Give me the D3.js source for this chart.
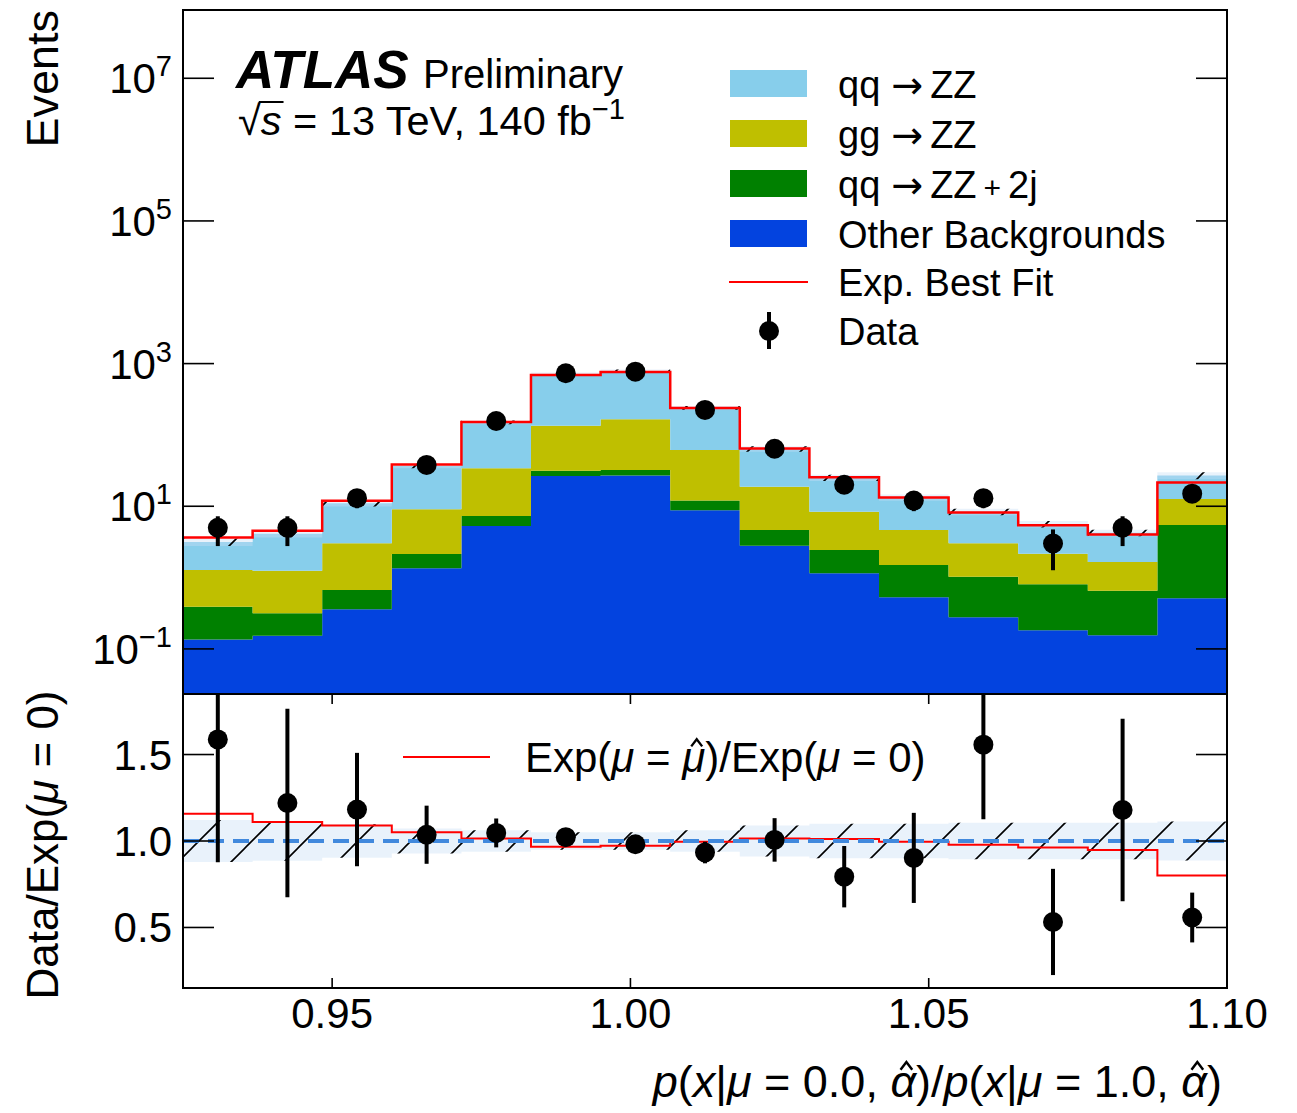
<!DOCTYPE html>
<html>
<head>
<meta charset="utf-8">
<script src="https://cdn.jsdelivr.net/npm/d3@7"></script>
<style>
  html, body { margin: 0; padding: 0; background: #fff; }
  svg { display: block; font-family: "Liberation Sans", Arial, Helvetica, "DejaVu Sans", sans-serif; }
</style>
</head>
<body>
<svg id="chart" width="1297" height="1113"></svg>
<script>
// ---- binning and per-bin yields ----
const binEdges = [0.925, 0.93667, 0.94833, 0.96, 0.97167, 0.98333, 0.995, 1.00667,
                  1.01833, 1.03, 1.04167, 1.05333, 1.065, 1.07667, 1.08833, 1.10];
const otherBackgrounds = [0.136, 0.153, 0.36, 1.35, 5.28, 26.5, 26.9, 8.8, 2.8, 1.15, 0.53, 0.278, 0.182, 0.155, 0.513];
const qqZZ2j          = [0.254, 0.163, 0.31, 0.79, 2.02, 5.0, 5.4, 3.2, 1.85, 1.29, 0.97, 0.752, 0.623, 0.501, 4.95];
const ggZZ            = [0.89, 0.934, 2.36, 6.93, 26.7, 103.5, 133.7, 49.5, 14.15, 5.96, 3.15, 2.0, 1.355, 1.004, 7.14];
const qqZZ            = [1.87, 2.85, 7.97, 27.6, 116, 580, 620, 178.5, 44.8, 16.8, 8.65, 5.32, 3.48, 2.58, 14.3];
const dataCounts      = [5, 5, 13, 38, 157, 731, 771, 224, 64, 20, 12, 13, 3, 5, 15];
// Exp(mu = mu_hat) / Exp(mu = 0)
const bestFitRatio    = [1.158, 1.110, 1.089, 1.050, 1.014, 0.967, 0.972, 0.995, 1.014, 1.012, 0.996, 0.979, 0.963, 0.948, 0.800];
// relative uncertainty of the expectation
const bandUncertainty = [0.121, 0.114, 0.097, 0.072, 0.062, 0.050, 0.050, 0.062, 0.090, 0.100, 0.100, 0.105, 0.105, 0.105, 0.113];

const upperTicks = [1e-1, 1e1, 1e3, 1e5, 1e7];
const upperTickLabels = [["10", "−1"], ["10", "1"], ["10", "3"], ["10", "5"], ["10", "7"]];
const ratioTicks = [0.5, 1.0, 1.5];
const ratioTickLabels = ["0.5", "1.0", "1.5"];
const xTicks = [0.95, 1.00, 1.05, 1.10];
const xTickLabels = ["0.95", "1.00", "1.05", "1.10"];
const sampleNames = [["qq", "ZZ", ""], ["gg", "ZZ", ""], ["qq", "ZZ", "2j"], ["Other Backgrounds"]];
const sampleColors = ["#87ceeb", "#bfbf00", "#008000", "#0343df"];

// ---- layout ----
const L = 183, R = 1227, T = 10, MID = 694, B = 988;
const svg = d3.select("#chart");
const x  = d3.scaleLinear().domain([0.925, 1.10]).range([L, R]);
const y  = d3.scaleLog().domain([0.02333, 9.06e7]).range([MID, T]);
const yr = d3.scaleLinear().domain([0.15, 1.85]).range([B, MID]);

const defs = svg.append("defs");
defs.append("clipPath").attr("id", "clipUpper").append("rect")
  .attr("x", L).attr("y", T).attr("width", R - L).attr("height", MID - T);
defs.append("clipPath").attr("id", "clipLower").append("rect")
  .attr("x", L).attr("y", MID).attr("width", R - L).attr("height", B - MID);
const hatch = defs.append("pattern").attr("id", "hatch")
  .attr("patternUnits", "userSpaceOnUse").attr("width", 53).attr("height", 53)
  .attr("patternTransform", "translate(33,0)");
hatch.append("path").attr("d", "M0,53 L53,0 M-10,10 L10,-10 M43,63 L63,43")
  .attr("stroke", "#000").attr("stroke-width", 1.6);

// ---- stacked yields ----
const rows = dataCounts.map((d, i) => ({
  other: otherBackgrounds[i], qq2j: qqZZ2j[i], gg: ggZZ[i], qq: qqZZ[i]
}));
const stack = d3.stack().keys(["other", "qq2j", "gg", "qq"])(rows);
const totals = rows.map(r => r.other + r.qq2j + r.gg + r.qq);
const stackColors = { other: "#0343df", qq2j: "#008000", gg: "#bfbf00", qq: "#87ceeb" };

// two points per bin so the area is drawn as flat steps
function stepPoints(n) {
  const pts = [];
  for (let i = 0; i < n; i++) { pts.push({ i, e: binEdges[i] }); pts.push({ i, e: binEdges[i + 1] }); }
  return pts;
}
const pts = stepPoints(dataCounts.length);
const yFloor = v => (v <= 0 ? MID + 5 : y(v));

const upper = svg.append("g").attr("clip-path", "url(#clipUpper)");
stack.forEach(layer => {
  const area = d3.area()
    .x(p => x(p.e))
    .y0(p => yFloor(layer[p.i][0]))
    .y1(p => y(layer[p.i][1]));
  upper.append("path").attr("d", area(pts)).attr("fill", stackColors[layer.key]);
});

// uncertainty band on the total
const bandArea = d3.area()
  .x(p => x(p.e))
  .y0(p => y(totals[p.i] * (1 - bandUncertainty[p.i])))
  .y1(p => y(totals[p.i] * (1 + bandUncertainty[p.i])));
upper.append("path").attr("d", bandArea(pts)).attr("fill", "rgba(200,222,245,0.4)");
upper.append("path").attr("d", bandArea(pts)).attr("fill", "url(#hatch)");

// best-fit expectation
const fitLine = d3.line().x(p => x(p.e)).y(p => y(totals[p.i] * bestFitRatio[p.i]));
upper.append("path").attr("d", fitLine(pts)).attr("fill", "none")
  .attr("stroke", "#ff0000").attr("stroke-width", 2.5);

// data points
const centers = dataCounts.map((d, i) => (binEdges[i] + binEdges[i + 1]) / 2);
const dUp = upper.append("g");
dataCounts.forEach((n, i) => {
  const err = Math.sqrt(n);
  dUp.append("line").attr("x1", x(centers[i])).attr("x2", x(centers[i]))
    .attr("y1", y(n + err)).attr("y2", yFloor(n - err))
    .attr("stroke", "#000").attr("stroke-width", 4);
  dUp.append("circle").attr("cx", x(centers[i])).attr("cy", y(n)).attr("r", 10).attr("fill", "#000");
});

// ---- ratio panel ----
const lower = svg.append("g").attr("clip-path", "url(#clipLower)");
const ratioBand = d3.area()
  .x(p => x(p.e))
  .y0(p => yr(1 - bandUncertainty[p.i]))
  .y1(p => yr(1 + bandUncertainty[p.i]));
lower.append("path").attr("d", ratioBand(pts)).attr("fill", "rgba(200,222,245,0.4)");
lower.append("path").attr("d", ratioBand(pts)).attr("fill", "url(#hatch)");
lower.append("path")
  .attr("d", d3.line().x(p => x(p.e)).y(p => yr(bestFitRatio[p.i]))(pts))
  .attr("fill", "none").attr("stroke", "#ff0000").attr("stroke-width", 2);
lower.append("line").attr("x1", L).attr("x2", R).attr("y1", yr(1)).attr("y2", yr(1))
  .attr("stroke", "#4189dd").attr("stroke-width", 4).attr("stroke-dasharray", "16,9");
dataCounts.forEach((n, i) => {
  const r = n / totals[i], e = Math.sqrt(n) / totals[i];
  lower.append("line").attr("x1", x(centers[i])).attr("x2", x(centers[i]))
    .attr("y1", yr(r + e)).attr("y2", yr(r - e))
    .attr("stroke", "#000").attr("stroke-width", 4);
  lower.append("circle").attr("cx", x(centers[i])).attr("cy", yr(r)).attr("r", 10).attr("fill", "#000");
});

// ---- frames and ticks ----
const axes = svg.append("g").attr("stroke", "#000");
axes.append("rect").attr("x", L).attr("y", T).attr("width", R - L).attr("height", MID - T)
  .attr("fill", "none").attr("stroke-width", 2);
axes.append("rect").attr("x", L).attr("y", MID).attr("width", R - L).attr("height", B - MID)
  .attr("fill", "none").attr("stroke-width", 2);
upperTicks.forEach(t => {
  axes.append("line").attr("x1", L).attr("x2", L + 31).attr("y1", y(t)).attr("y2", y(t)).attr("stroke-width", 1.6);
  axes.append("line").attr("x1", R - 31).attr("x2", R).attr("y1", y(t)).attr("y2", y(t)).attr("stroke-width", 1.6);
});
ratioTicks.forEach(t => {
  axes.append("line").attr("x1", L).attr("x2", L + 31).attr("y1", yr(t)).attr("y2", yr(t)).attr("stroke-width", 1.6);
  axes.append("line").attr("x1", R - 31).attr("x2", R).attr("y1", yr(t)).attr("y2", yr(t)).attr("stroke-width", 1.6);
});
xTicks.forEach(t => {
  axes.append("line").attr("x1", x(t)).attr("x2", x(t)).attr("y1", B).attr("y2", B - 10).attr("stroke-width", 1.6);
  axes.append("line").attr("x1", x(t)).attr("x2", x(t)).attr("y1", MID).attr("y2", MID + 10).attr("stroke-width", 1.6);
});

// ---- tick labels ----
const labels = svg.append("g").attr("fill", "#000");
upperTicks.forEach((t, i) => {
  const tx = labels.append("text").attr("x", 172).attr("y", y(t) + 15)
    .attr("text-anchor", "end").attr("font-size", 42);
  tx.append("tspan").text(upperTickLabels[i][0]);
  tx.append("tspan").attr("dy", -17).attr("font-size", 29).text(upperTickLabels[i][1]);
});
ratioTicks.forEach((t, i) => {
  labels.append("text").attr("x", 172).attr("y", yr(t) + 15)
    .attr("text-anchor", "end").attr("font-size", 42).text(ratioTickLabels[i]);
});
xTicks.forEach((t, i) => {
  labels.append("text").attr("x", x(t)).attr("y", 1028)
    .attr("text-anchor", "middle").attr("font-size", 42).text(xTickLabels[i]);
});

// ---- math-style text: parts are [text, italic, hat] ----
function richText(sel, parts, fs) {
  const hats = [];
  let idx = 0;
  parts.forEach(p => {
    const ts = sel.append("tspan").text(p[0]);
    if (p[1]) ts.attr("font-style", "italic");
    if (p[2]) hats.push(idx);
    idx += p[0].length;
  });
  hats.forEach(k => {
    const ext = sel.node().getExtentOfChar(k);
    const cx = ext.x + ext.width / 2 + 0.07 * fs;
    const baseY = ext.y + ext.height * 0.79;         // approximate baseline
    const top = baseY - 0.52 * fs;                   // x-height
    const hw = 0.13 * fs;
    sel.node().parentNode.appendChild(
      d3.create("svg:path")
        .attr("d", `M${cx - hw},${top - 0.07 * fs} L${cx},${top - 0.24 * fs} L${cx + hw},${top - 0.07 * fs}`)
        .attr("fill", "none").attr("stroke", "#000").attr("stroke-width", 0.055 * fs)
        .attr("stroke-linejoin", "miter").node());
  });
  return sel;
}

// ---- axis titles ----
labels.append("text").attr("transform", "translate(58,10) rotate(-90)")
  .attr("text-anchor", "end").attr("font-size", 45).text("Events");
richText(labels.append("text").attr("transform", "translate(58,845) rotate(-90)")
  .attr("text-anchor", "middle").attr("font-size", 44),
  [["Data/Exp("], ["μ", 1], [" = 0)"]], 44);
richText(labels.append("text").attr("x", 1222).attr("y", 1097)
  .attr("text-anchor", "end").attr("font-size", 45),
  [["p", 1], ["("], ["x", 1], ["|"], ["μ", 1], [" = 0.0, "], ["α", 1, 1], [")/"],
   ["p", 1], ["("], ["x", 1], ["|"], ["μ", 1], [" = 1.0, "], ["α", 1, 1], [")"]], 45);

// ---- ATLAS label ----
labels.append("text").attr("x", 236).attr("y", 88).attr("font-size", 53)
  .attr("font-weight", "bold").attr("font-style", "italic").text("ATLAS");
labels.append("text").attr("x", 423).attr("y", 88).attr("font-size", 40).text("Preliminary");
const energy = labels.append("text").attr("x", 238).attr("y", 135).attr("font-size", 41.5);
energy.append("tspan").text("√");
energy.append("tspan").attr("font-style", "italic").text("s");
energy.append("tspan").text(" = 13 TeV, 140 fb");
energy.append("tspan").attr("dy", -16).attr("font-size", 29).text("−1");
{
  const ext = energy.node().getExtentOfChar(1);
  const root = energy.node().getExtentOfChar(0);
  labels.append("line").attr("x1", root.x + root.width - 2).attr("x2", ext.x + ext.width + 2)
    .attr("y1", root.y + 5).attr("y2", root.y + 5).attr("stroke", "#000").attr("stroke-width", 2);
}

// ---- legend (upper panel) ----
const leg = svg.append("g");
const rowY = [83.5, 133.5, 183.5, 233.5, 282, 331];
const legFs = 38;
sampleNames.forEach((name, i) => {
  leg.append("rect").attr("x", 730).attr("y", rowY[i] - 13.5).attr("width", 77).attr("height", 27)
    .attr("fill", sampleColors[i]);
  const tx = leg.append("text").attr("x", 838).attr("y", rowY[i] + 14).attr("font-size", legFs);
  tx.append("tspan").text(name[0]);
  if (name.length > 1) {
    tx.append("tspan").attr("dx", 11).attr("font-family", "DejaVu Sans").attr("font-size", 38).text("→");
    tx.append("tspan").attr("dx", 7).text(name[1]);
    if (name[2]) {
      tx.append("tspan").attr("dx", 7).attr("font-size", 30).text("+");
      tx.append("tspan").attr("dx", 7).text(name[2]);
    }
  }
});
leg.append("line").attr("x1", 729).attr("x2", 808).attr("y1", rowY[4]).attr("y2", rowY[4])
  .attr("stroke", "#ff0000").attr("stroke-width", 2);
leg.append("text").attr("x", 838).attr("y", rowY[4] + 14).attr("font-size", legFs).text("Exp. Best Fit");
leg.append("line").attr("x1", 769).attr("x2", 769).attr("y1", rowY[5] - 19).attr("y2", rowY[5] + 18)
  .attr("stroke", "#000").attr("stroke-width", 4);
leg.append("circle").attr("cx", 769).attr("cy", rowY[5]).attr("r", 10).attr("fill", "#000");
leg.append("text").attr("x", 838).attr("y", rowY[5] + 14).attr("font-size", legFs).text("Data");

// ---- legend (ratio panel) ----
leg.append("line").attr("x1", 403).attr("x2", 490).attr("y1", 757).attr("y2", 757)
  .attr("stroke", "#ff0000").attr("stroke-width", 2);
richText(leg.append("text").attr("x", 525).attr("y", 772).attr("font-size", 42),
  [["Exp("], ["μ", 1], [" = "], ["μ", 1, 1], [")/Exp("], ["μ", 1], [" = 0)"]], 42);
</script>
</body>
</html>
